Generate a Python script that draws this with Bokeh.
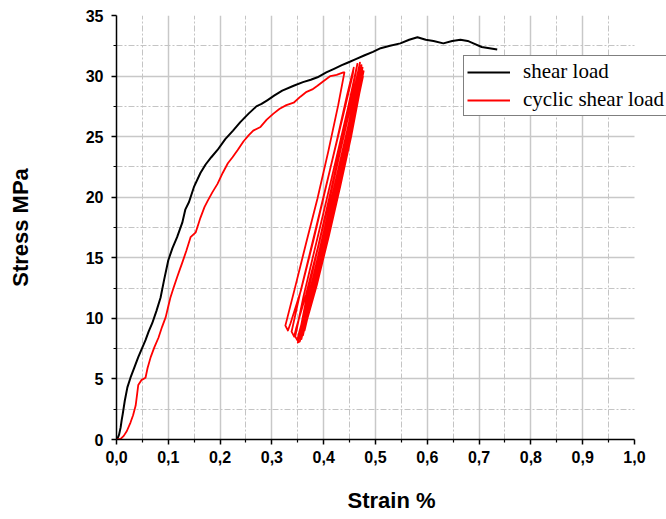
from bokeh.plotting import figure
from bokeh.models import FixedTicker, CustomJSTickFormatter, Legend, LegendItem, BoxAnnotation
from bokeh.embed import file_html
from bokeh.resources import INLINE

# ---- data ----
shear_strain = [0, 0.002, 0.005, 0.008, 0.010, 0.012, 0.016, 0.021, 0.027, 0.034, 0.042, 0.049,
                0.056, 0.062, 0.069, 0.077, 0.085, 0.092, 0.100, 0.108, 0.117, 0.127, 0.133, 0.140,
                0.150, 0.162, 0.172, 0.183, 0.195, 0.210, 0.225, 0.239, 0.255, 0.270, 0.280, 0.291,
                0.305, 0.320, 0.342, 0.360, 0.375, 0.388, 0.405, 0.420, 0.435, 0.446, 0.462, 0.478,
                0.495, 0.510, 0.528, 0.548, 0.565, 0.581, 0.597, 0.612, 0.631, 0.648, 0.664, 0.678,
                0.689, 0.705, 0.720, 0.735]
shear_stress = [0, 0.1, 0.4, 1.0, 1.6, 2.1, 3.2, 4.3, 5.1, 5.9, 6.8, 7.5,
                8.2, 8.9, 9.6, 10.6, 11.7, 13.2, 14.8, 15.8, 16.7, 17.9, 19.0, 19.6,
                20.9, 22.0, 22.7, 23.3, 23.9, 24.8, 25.5, 26.2, 26.9, 27.5, 27.7, 28.0,
                28.4, 28.8, 29.2, 29.5, 29.7, 29.9, 30.3, 30.6, 30.9, 31.1, 31.4, 31.7,
                32.0, 32.3, 32.5, 32.7, 33.0, 33.2, 33.0, 32.9, 32.7, 32.9, 33.0, 32.9,
                32.7, 32.4, 32.3, 32.2]

cyc_load_strain = [0, 0.008, 0.014, 0.020, 0.027, 0.032, 0.037, 0.040, 0.042, 0.048, 0.056, 0.060,
                   0.066, 0.073, 0.081, 0.088, 0.095, 0.100, 0.104, 0.110, 0.117, 0.122, 0.127, 0.135,
                   0.143, 0.153, 0.162, 0.170, 0.176, 0.185, 0.195, 0.205, 0.215, 0.224, 0.234, 0.245,
                   0.255, 0.264, 0.278, 0.290, 0.303, 0.315, 0.328, 0.342, 0.355, 0.367, 0.378, 0.388,
                   0.400, 0.413, 0.425, 0.438, 0.440]
cyc_load_stress = [0, 0.05, 0.3, 0.7, 1.4, 2.0, 2.8, 3.8, 4.5, 4.9, 5.1, 5.9,
                   6.8, 7.6, 8.4, 9.3, 10.1, 11.0, 11.7, 12.5, 13.4, 14.0, 14.6, 15.6,
                   16.7, 17.1, 18.3, 19.2, 19.7, 20.4, 21.1, 22.0, 22.8, 23.3, 23.9, 24.6,
                   25.1, 25.5, 25.8, 26.4, 26.9, 27.3, 27.6, 27.8, 28.3, 28.7, 28.9, 29.2,
                   29.6, 30.0, 30.1, 30.3, 30.3]

loops_strain = [0.428, 0.409, 0.388, 0.366, 0.345, 0.326,
                0.331, 0.336, 0.356, 0.380, 0.403, 0.425, 0.445, 0.458,
                0.456, 0.440, 0.418, 0.396, 0.374, 0.354, 0.338,
                0.343, 0.347, 0.366, 0.389, 0.411, 0.433, 0.453, 0.465,
                0.462, 0.447, 0.426, 0.404, 0.381, 0.361, 0.345,
                0.349, 0.353, 0.372, 0.395, 0.417, 0.439, 0.459, 0.470,
                0.467, 0.452, 0.431, 0.409, 0.386, 0.366, 0.350,
                0.354, 0.358, 0.377, 0.400, 0.422, 0.443, 0.462, 0.473,
                0.470, 0.455, 0.434, 0.412, 0.390, 0.370, 0.353,
                0.357, 0.361, 0.380, 0.403, 0.425, 0.446, 0.465, 0.475,
                0.472, 0.457, 0.436, 0.414, 0.392, 0.372, 0.356,
                0.360, 0.364, 0.383, 0.406, 0.428, 0.449, 0.467, 0.477,
                0.474, 0.459, 0.438, 0.416, 0.394, 0.375, 0.359,
                0.363, 0.368, 0.387, 0.410, 0.432, 0.453, 0.469, 0.476]
loops_stress = [27.6, 23.8, 19.9, 16.2, 12.6, 9.4,
                9.0, 9.6, 12.3, 16.4, 20.6, 24.6, 28.4, 30.7,
                30.1, 27.2, 23.3, 19.4, 15.5, 12.0, 8.9,
                8.5, 9.2, 12.0, 15.9, 20.0, 24.2, 28.3, 31.0,
                30.4, 27.4, 23.5, 19.5, 15.4, 11.8, 8.5,
                8.2, 8.9, 11.8, 15.7, 19.9, 24.1, 28.3, 31.1,
                30.5, 27.5, 23.6, 19.4, 15.3, 11.5, 8.0,
                8.1, 8.9, 11.9, 15.9, 20.1, 24.2, 28.2, 30.9,
                30.3, 27.3, 23.4, 19.3, 15.3, 11.6, 8.4,
                8.3, 9.1, 12.1, 16.1, 20.3, 24.4, 28.3, 30.7,
                30.0, 27.1, 23.3, 19.3, 15.3, 11.7, 8.7,
                8.6, 9.4, 12.3, 16.3, 20.4, 24.5, 28.3, 30.4,
                29.8, 26.9, 23.1, 19.2, 15.3, 11.9, 9.0,
                9.0, 9.9, 12.8, 16.8, 20.9, 25.0, 28.6, 30.0]

x_ticks = [0.0, 0.1, 0.2, 0.3, 0.4, 0.5, 0.6, 0.7, 0.8, 0.9, 1.0]
x_minor = [0.05, 0.15, 0.25, 0.35, 0.45, 0.55, 0.65, 0.75, 0.85, 0.95]
y_ticks = [0, 5, 10, 15, 20, 25, 30, 35]
y_minor = [2.5, 7.5, 12.5, 17.5, 22.5, 27.5, 32.5]
labels = ["shear load", "cyclic shear load"]

# ---- figure ----
# the frame is widened past 1.0 so that the legend can run to the right edge
p = figure(width=666, height=519, x_range=(0, 1.0618), y_range=(0, 35),
           output_backend="svg", toolbar_location=None,
           min_border_left=116, min_border_right=0, min_border_top=15, min_border_bottom=80)
p.outline_line_color = None
p.background_fill_color = "white"
p.border_fill_color = "white"

for ax, ticks, minor in ((p.xaxis[0], x_ticks, x_minor), (p.yaxis[0], y_ticks, y_minor)):
    ax.ticker = FixedTicker(ticks=ticks, minor_ticks=minor)
    ax.axis_line_color = "black"
    ax.axis_line_width = 1.5
    ax.major_tick_line_color = "black"
    ax.major_tick_line_width = 1.5
    ax.minor_tick_line_color = "black"
    ax.minor_tick_line_width = 1.2
    ax.major_tick_in = 0
    ax.major_tick_out = 5
    ax.minor_tick_in = 0
    ax.minor_tick_out = 3
    ax.major_label_text_font = "Liberation Sans"
    ax.major_label_text_font_style = "bold"
    ax.major_label_text_font_size = "16px"
    ax.major_label_text_color = "black"
    ax.axis_label_text_font = "Liberation Sans"
    ax.axis_label_text_font_style = "bold"
    ax.axis_label_text_font_size = "22px"
    ax.axis_label_text_color = "black"

p.xaxis[0].bounds = (0, 1.0)
p.xaxis[0].formatter = CustomJSTickFormatter(code="return tick.toFixed(1).replace('.', ',');")
p.xaxis[0].axis_label = "Strain %"
p.xaxis[0].major_label_standoff = 6
p.xaxis[0].axis_label_standoff = 22
p.yaxis[0].axis_label = "Stress MPa"
p.yaxis[0].major_label_standoff = 8
p.yaxis[0].axis_label_standoff = 50

p.xgrid.ticker = FixedTicker(ticks=x_ticks[1:-1], minor_ticks=x_minor)
p.ygrid.ticker = FixedTicker(ticks=y_ticks[1:-1], minor_ticks=y_minor)
for g in (p.xgrid[0], p.ygrid[0]):
    g.grid_line_color = "#c8c8c8"
    g.grid_line_width = 1.5
    g.minor_grid_line_color = "#c4c4c4"
    g.minor_grid_line_width = 1
    g.minor_grid_line_dash = "6 2 2 2"

# blank strip to the right of strain 1.0 (grid stops there in the original)
p.add_layout(BoxAnnotation(left=1.0, fill_color="white", fill_alpha=1.0,
                           line_color=None, level="underlay"))

r_black = p.line(shear_strain, shear_stress, line_color="black", line_width=2, line_join="round")
red_x = cyc_load_strain + loops_strain
red_y = cyc_load_stress + loops_stress
r_red = p.line(red_x, red_y, line_color="#ff0000", line_width=1.8, line_join="round")

legend = Legend(items=[LegendItem(label=labels[0], renderers=[r_black]),
                       LegendItem(label=labels[1], renderers=[r_red])],
                location=(347, 323))
legend.label_text_font = "Liberation Serif"
legend.label_text_font_size = "21px"
legend.label_text_color = "black"
legend.label_height = 22
legend.glyph_height = 22
legend.glyph_width = 43
legend.label_standoff = 13
legend.spacing = 3
legend.padding = 3
legend.margin = 0
legend.border_line_color = "black"
legend.border_line_width = 1.5
legend.background_fill_color = "white"
legend.background_fill_alpha = 1
p.add_layout(legend, "center")

open("out.html", "w").write(file_html(p, INLINE))
